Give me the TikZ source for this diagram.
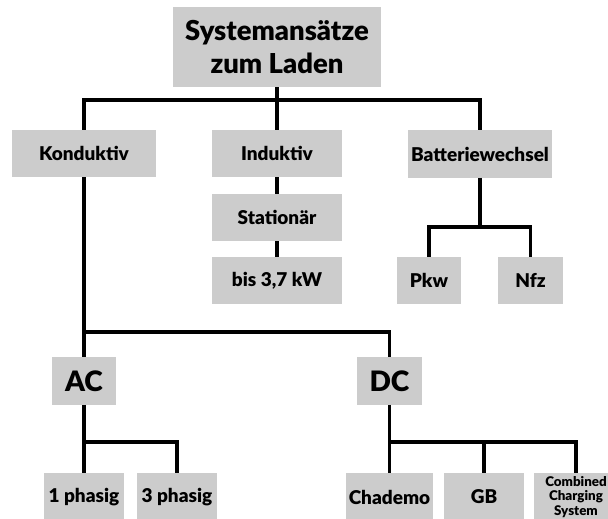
\documentclass[tikz,border=0pt]{standalone}
\usepackage{fontspec}
\setmainfont{Lato}[BoldFont={Lato Black}]
\definecolor{kastengrau}{RGB}{204,204,204}
\tikzset{
	kasten/.style={fill=kastengrau,inner sep=0pt,minimum height=1.175cm,align=center,font=\bfseries\fontsize{13.5}{16}\selectfont},
	ast/.style={line width=2.3pt}
}
\begin{document}
\begin{tikzpicture}[x=0.025cm,y=-0.025cm]
	\useasboundingbox (0,0) rectangle (608,519);
	% Wurzel %
	\node[kasten,minimum width=5.2cm,minimum height=2cm,font=\bfseries\fontsize{19.5}{23.4}\selectfont] (systeme) at (277,47) {Systemansätze\\zum Laden};
	% Ebene 1 %
	\node[kasten,minimum width=3.6cm] (konduktiv) at (84,153.5) {Konduktiv};
	\node[kasten,minimum width=3.225cm] (induktiv) at (277,153.5) {Induktiv};
	\node[kasten,minimum width=3.575cm] (batterie) at (480,154) {Batteriewechsel};
	% Induktiv %
	\node[kasten,minimum width=3.225cm] (stationaer) at (277,217.5) {Stationär};
	\node[kasten,minimum width=3.225cm] (bis) at (277,280.5) {bis 3,7 kW};
	% Batteriewechsel %
	\node[kasten,minimum width=1.6cm] (pkw) at (429,280.5) {Pkw};
	\node[kasten,minimum width=1.6cm] (nfz) at (530.5,280.5) {Nfz};
	% Konduktiv %
	\node[kasten,minimum width=1.6cm,font=\bfseries\fontsize{20}{24}\selectfont] (ac) at (84,381) {AC};
	\node[kasten,minimum width=1.6cm,font=\bfseries\fontsize{20}{24}\selectfont] (dc) at (389.5,381) {DC};
	% AC %
	\node[kasten,minimum width=2cm,minimum height=1.2cm] (einphasig) at (84,497) {1 phasig};
	\node[kasten,minimum width=2cm,minimum height=1.2cm] (dreiphasig) at (177,497) {3 phasig};
	% DC %
	\node[kasten,minimum width=2.15cm,minimum height=1.2cm] (chademo) at (389.5,497) {Chademo};
	\node[kasten,minimum width=2cm,minimum height=1.2cm] (gb) at (484,497) {GB};
	\node[kasten,minimum width=2.1cm,minimum height=1.2cm,font=\bfseries\fontsize{9.5}{10.6}\selectfont] (ccs) at (576,497) {Combined\\Charging\\System};
	% Verbindungen %
	\coordinate (k1) at (277,100);
	\draw[ast] (systeme) -- (k1);
	\draw[ast] (konduktiv.north) |- (k1) -| (batterie.north);
	\draw[ast] (k1) -- (induktiv);
	\draw[ast] (induktiv) -- (stationaer);
	\draw[ast] (stationaer) -- (bis);
	\coordinate (k2) at (480,227);
	\draw[ast] (batterie) -- (k2);
	\draw[ast] (pkw.north) |- (k2) -| (nfz.north);
	\coordinate (k3) at (84,332);
	\draw[ast] (konduktiv) -- (ac);
	\draw[ast] (k3) -| (dc.north);
	\coordinate (k4) at (84,442);
	\draw[ast] (ac) -- (einphasig);
	\draw[ast] (k4) -| (dreiphasig.north);
	\coordinate (k5) at (389.5,442);
	\draw[ast] (dc) -- (chademo);
	\draw[ast] (k5) -| (ccs.north);
	\draw[ast] (gb.north) -- (gb.north |- k5);
\end{tikzpicture}
\end{document}
